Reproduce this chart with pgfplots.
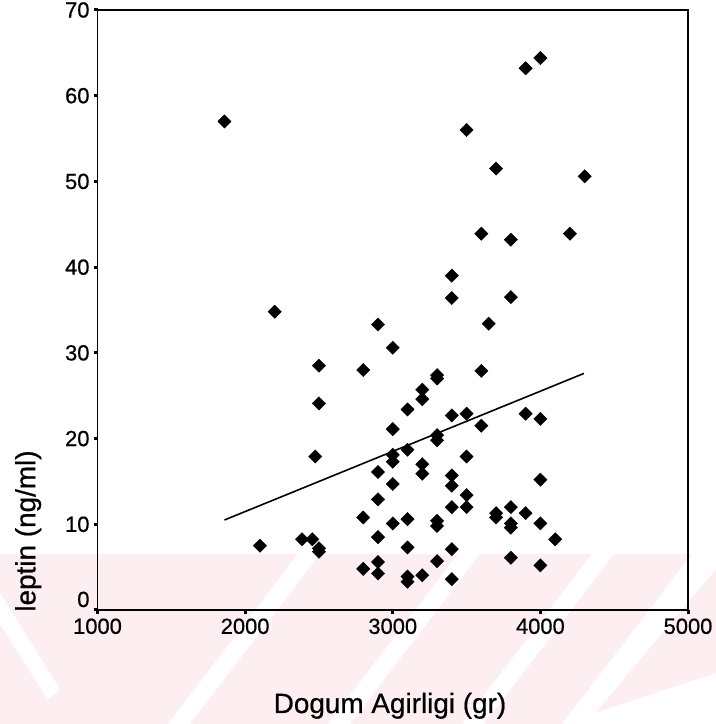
\documentclass[border=0pt]{standalone}
\usepackage{pgfplots}
\pgfplotsset{compat=1.18}
\usepackage{fontspec}
\setmainfont{Liberation Sans}
\newfontfamily\scanfont{Liberation Sans}[FakeBold=0.6]
\definecolor{wm}{RGB}{253,238,241}
\pgfplotstableread{
x y
1860 57.0
3900 63.2
4000 64.4
3500 56.0
3700 51.5
4300 50.6
3600 43.9
3800 43.2
4200 43.9
3400 39.0
3400 36.4
3800 36.5
2200 34.8
2900 33.3
3650 33.4
3000 30.6
2500 28.5
2800 28.0
3300 27.4
3300 27.0
3600 27.9
3200 25.7
3200 24.6
2500 24.1
3100 23.4
3400 22.7
3500 22.9
3900 22.9
4000 22.3
3600 21.5
3000 21.1
3300 20.4
3300 19.8
2475 17.9
3100 18.7
3000 18.1
3000 17.3
3500 17.9
3200 17.0
3200 15.9
2900 16.1
3400 15.7
3400 14.5
4000 15.2
3000 14.7
3500 13.4
3500 12.0
3400 12.0
2900 12.9
3800 12.0
3700 11.3
3700 10.8
3900 11.3
2800 10.8
3100 10.6
3000 10.1
3300 10.4
3300 9.8
3800 10.1
3800 9.6
4000 10.1
2900 8.5
2385 8.25
2455 8.25
4100 8.25
2100 7.5
2500 7.2
2500 6.8
3100 7.3
3400 7.1
3800 6.1
4000 5.2
3300 5.7
2800 4.8
2900 5.6
2900 4.25
3200 4.05
3100 3.9
3100 3.3
3400 3.6
}\leptin
\begin{document}
\begin{tikzpicture}[x=1bp,y=1bp]
\path[use as bounding box] (0,0) rectangle (716,724);
% faint watermark band
\fill[wm] (0,0) rectangle (716,170);
\fill[white] (298,170) -- (320,170) -- (190,0) -- (168,0) -- cycle;
\fill[white] (458,170) -- (480,170) -- (350,0) -- (328,0) -- cycle;
\fill[white] (592,170) -- (614,170) -- (484,0) -- (462,0) -- cycle;
\fill[white] (692,170) -- (716,170) -- (716,155) -- (586,0) -- (562,0) -- cycle;
\fill[white] (0,131) -- (60,35) -- (48,24) -- (0,100) -- cycle;
\fill[white] (562,0) -- (716,0) -- (716,51) -- cycle;
\begin{axis}[
  at={(97.5bp,114bp)}, anchor=south west,
  scale only axis, width=590.5bp, height=600bp,
  xmin=1000, xmax=5000, ymin=0, ymax=70,
  xtick={1000,2000,3000,4000,5000},
  ytick={0,10,20,30,40,50,60,70},
  yticklabels={{\smash{\raisebox{3bp}{0}}},10,20,30,40,50,60,70},
  tick align=outside, tick pos=left,
  major tick length=4bp,
  tick style={line width=3bp, black},
  axis line style={line width=1.8bp, black},
  /pgf/number format/assume math mode=true,
  /pgf/number format/set thousands separator={},
  tick label style={font=\scanfont\fontsize{22}{26}\selectfont},
  xticklabel style={yshift=-1bp},
  yticklabel style={xshift=-0.5bp},
  clip=false,
]
\addplot[only marks, mark=square*, mark size=4.7bp,
  mark options={rotate=45, fill=black, draw=black}] table[x=x,y=y] {\leptin};
\addplot[black, line width=1.6bp] coordinates {(1860,10.5) (4295,27.6)};
\end{axis}
\node[anchor=base, font=\scanfont\fontsize{28}{32}\selectfont] at (390,11) {Dogum Agirligi (gr)};
\node[rotate=90, anchor=base, font=\scanfont\fontsize{28}{32}\selectfont] at (35.4,193) {leptin (ng/ml)};
\end{tikzpicture}
\end{document}
